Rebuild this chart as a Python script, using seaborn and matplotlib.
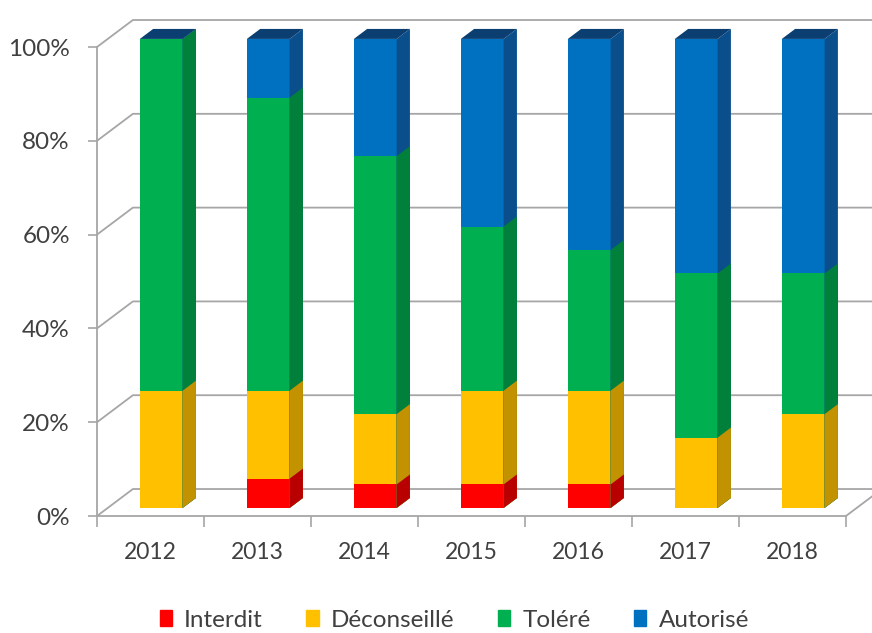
import numpy as np
import pandas as pd
import seaborn as sns
import matplotlib.pyplot as plt
from matplotlib.patches import Patch

# données (en %)
years = ['2012', '2013', '2014', '2015', '2016', '2017', '2018']
categories = ['Interdit', 'Déconseillé', 'Toléré', 'Autorisé']
interdit = [0, 6.25, 5, 5, 5, 0, 0]
deconseille = [25, 18.75, 15, 20, 20, 15, 20]
tolere = [75, 62.5, 55, 35, 30, 35, 30]
autorise = [0, 12.5, 25, 40, 45, 50, 50]

face_colors = ['#FF0000', '#FFC000', '#00B050', '#0070C0']
side_colors = ['#B80000', '#C39200', '#00803A', '#0A4F8C']
top_color = '#0B3F72'
grid_c = '#A6A6A6'
text_c = '#404040'

sns.set_style('white')
plt.rcParams['font.family'] = ['Lato', 'DejaVu Sans']

df = pd.DataFrame({'year': years, 'Interdit': interdit, 'Déconseillé': deconseille,
                   'Toléré': tolere, 'Autorisé': autorise})
cum = df[categories].cumsum(axis=1)

fig = plt.figure(figsize=(8.72, 6.33), dpi=100)
ax = fig.add_axes([0.1112, 0.1848, 0.8589, 0.7409])

# effet 3D : vecteur de profondeur (unités catégorie, unités %)
DX, DY = 0.336, 5.76
d0, d1 = 0.30, 0.67
width = 0.40

# murs : quadrillage sur le fond + diagonales
for v in range(0, 101, 20):
    ax.plot([-0.5, -0.5 + DX, 6.5 + DX], [v, v + DY, v + DY], color=grid_c, lw=1.3,
            clip_on=False, zorder=0)
ax.plot([6.5, 6.5 + DX], [0, DY], color=grid_c, lw=1.3, clip_on=False, zorder=0)

# faces avant (empilement cumulé, du haut vers le bas)
for cat, col in reversed(list(zip(categories, face_colors))):
    sns.barplot(x=df['year'], y=cum[cat], color=col, width=width, saturation=1,
                errorbar=None, linewidth=0, ax=ax, zorder=3)
for p in ax.patches:
    p.set_x(p.get_x() + d0 * DX)
    p.set_y(p.get_y() + d0 * DY)
    p.set_clip_on(False)

# faces latérales et dessus
for i in range(len(years)):
    xl = i - width / 2
    xr = i + width / 2
    for cat, sc in reversed(list(zip(categories, side_colors))):
        top = cum[cat][i]
        xs = [xr + d0 * DX, xr + d0 * DX, xr + d1 * DX, xr + d1 * DX]
        ys = [d0 * DY, top + d0 * DY, top + d1 * DY, d1 * DY]
        ax.fill(xs, ys, color=sc, lw=0, clip_on=False, zorder=3)
    top = cum['Autorisé'][i]
    xs = [xl + d0 * DX, xr + d0 * DX, xr + d1 * DX, xl + d1 * DX]
    ys = [top + d0 * DY, top + d0 * DY, top + d1 * DY, top + d1 * DY]
    ax.fill(xs, ys, color=top_color, lw=0, clip_on=False, zorder=3)

ax.set_xlim(-0.5, 6.5)
ax.set_ylim(0, 100)
ax.set_yticks(range(0, 101, 20))
ax.set_yticklabels([f'{v}%' for v in range(0, 101, 20)])
ax.set_xticks(range(len(years)))
ax.set_xticklabels(years)
ax.set_xticks(np.arange(-0.5, 7, 1), minor=True)
ax.set_xlabel('')
ax.set_ylabel('')
ax.tick_params(axis='x', which='major', bottom=True, length=0, pad=19,
               labelsize=16.5, labelcolor=text_c)
ax.tick_params(axis='x', which='minor', bottom=True, length=8, width=1.2,
               color=grid_c, direction='out')
ax.tick_params(axis='y', left=True, length=6.5, width=1.2, color=grid_c, pad=13,
               labelsize=17.5, labelcolor=text_c)
for s in ['top', 'right']:
    ax.spines[s].set_visible(False)
for s in ['left', 'bottom']:
    ax.spines[s].set_color(grid_c)
    ax.spines[s].set_linewidth(1.3)

handles = [Patch(color=c) for c in face_colors]
fig.legend(handles, categories, loc='center', bbox_to_anchor=(0.521, 0.0205), ncol=4,
           frameon=False, fontsize=17.5, labelcolor=text_c, handlelength=0.5,
           handleheight=0.6, handletextpad=0.5, columnspacing=1.8)

fig.savefig('out.png', dpi=100)
